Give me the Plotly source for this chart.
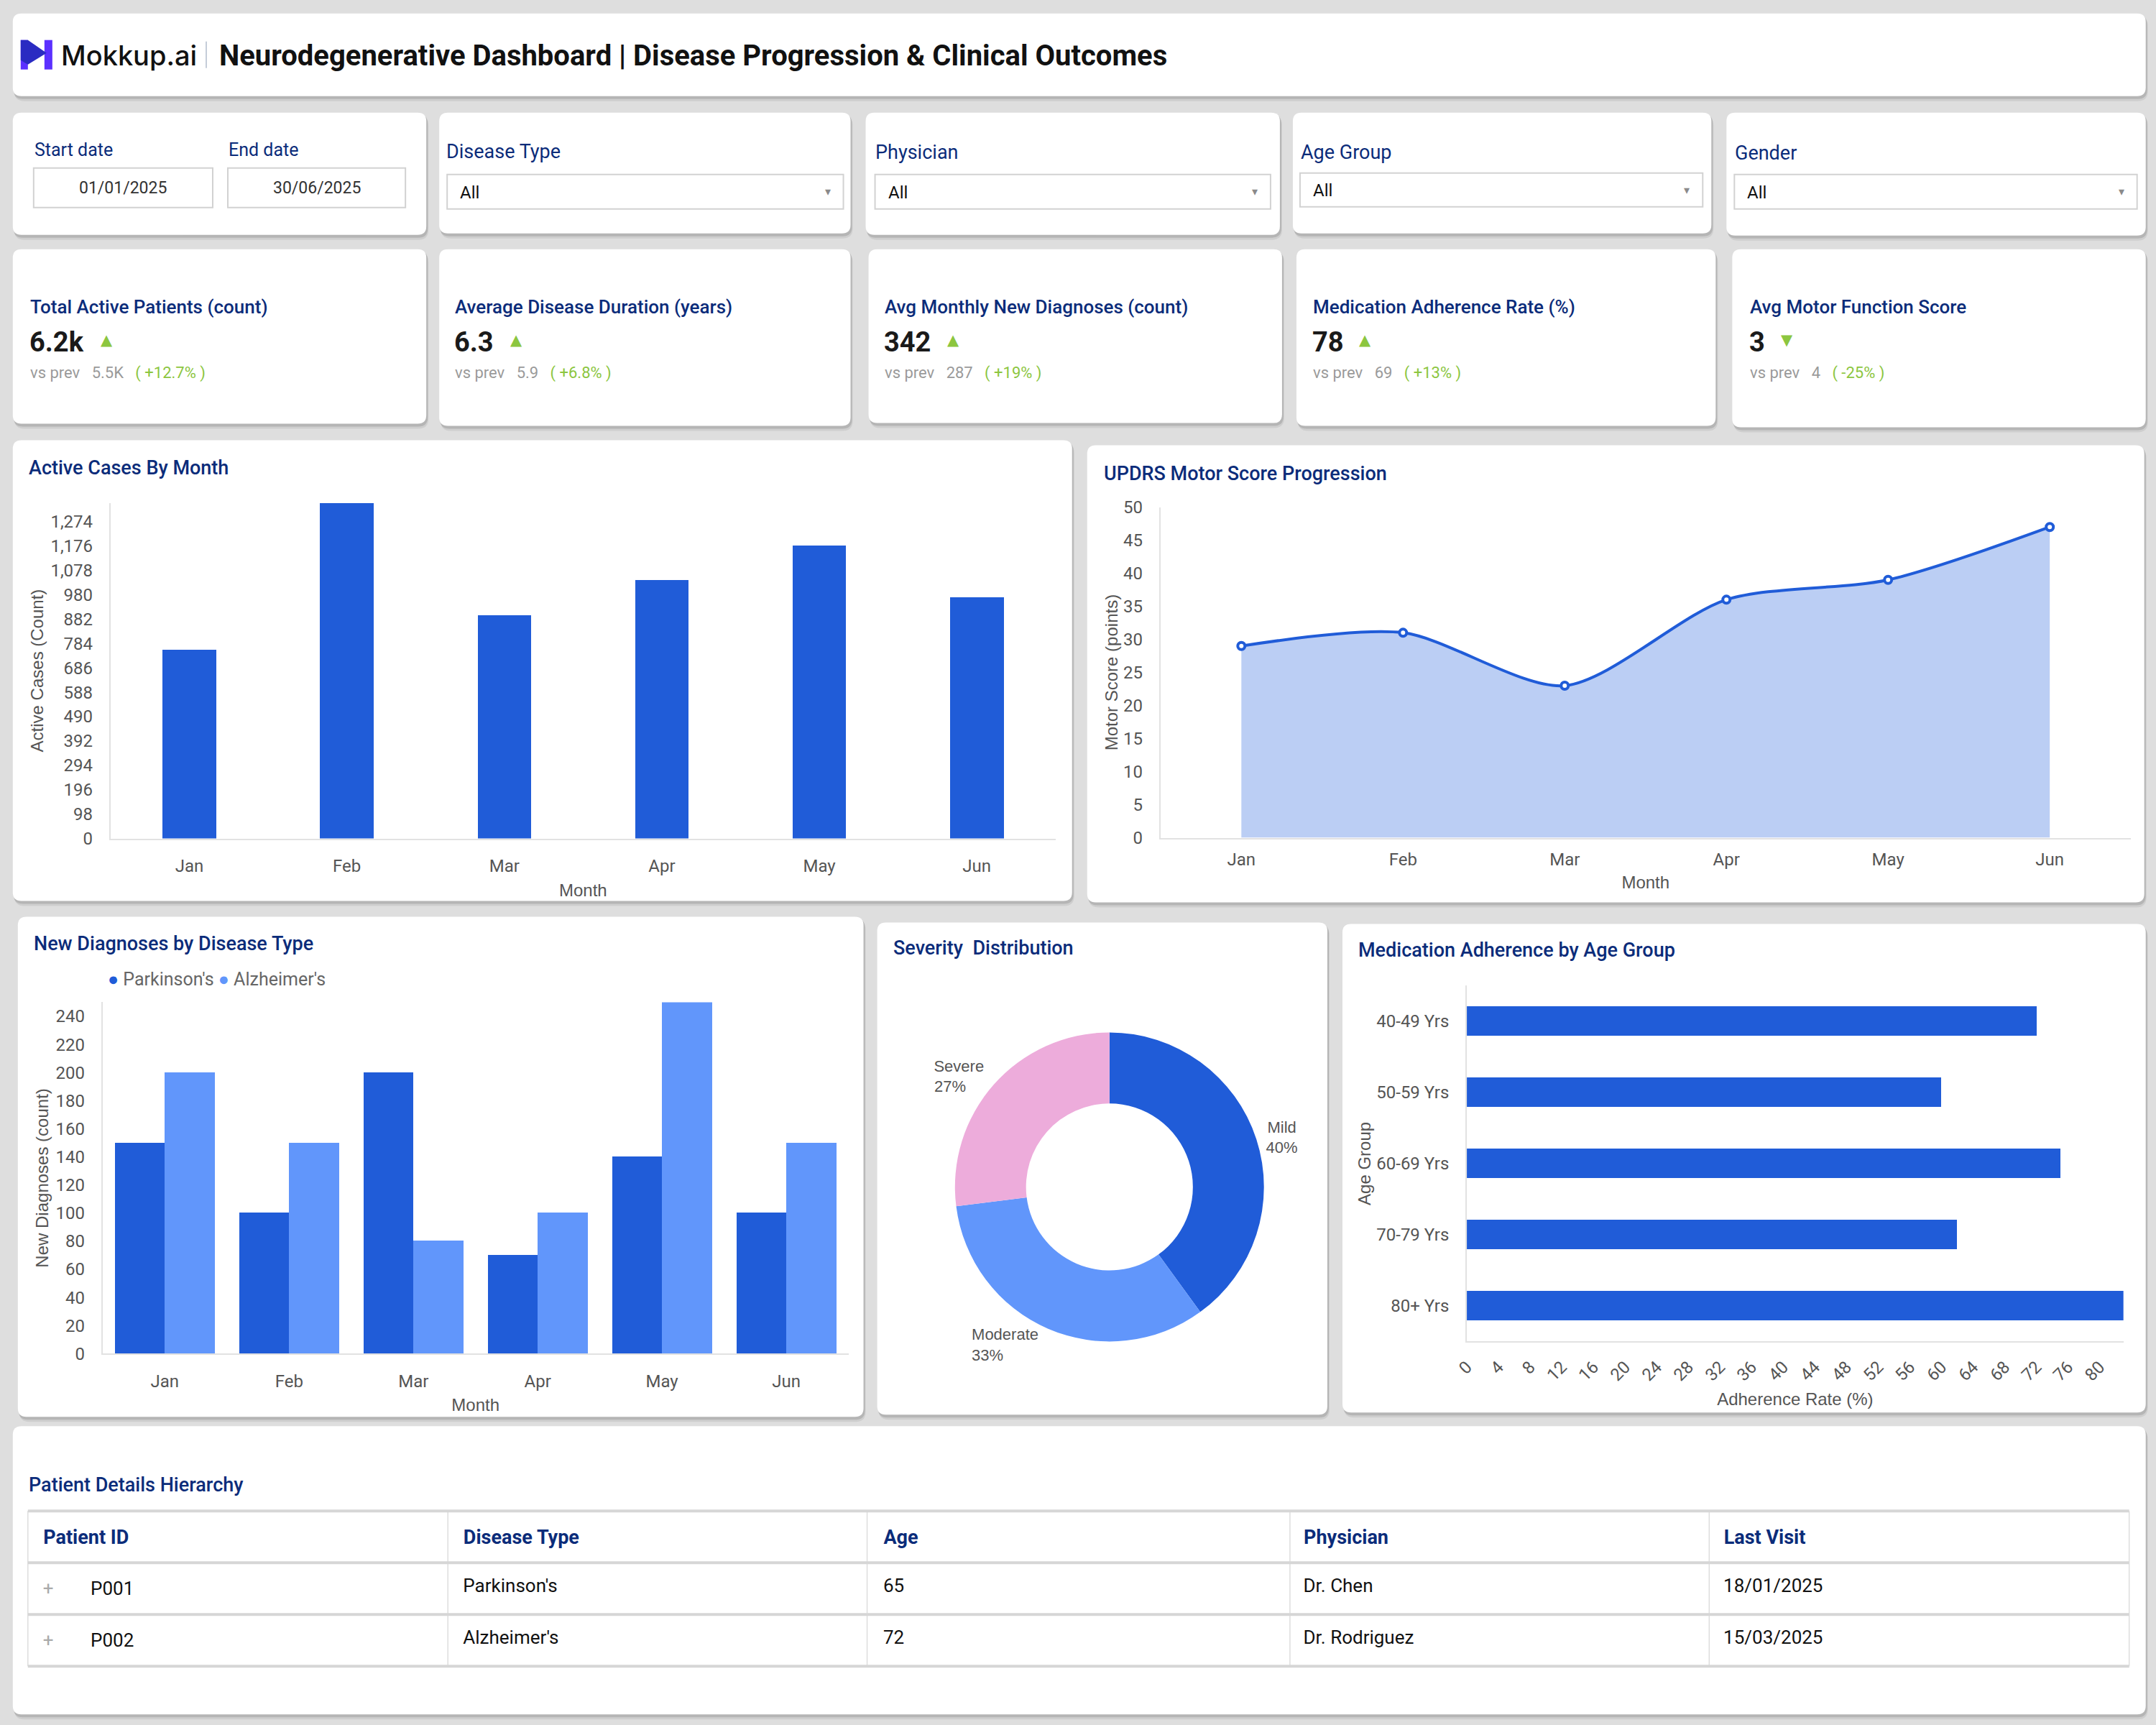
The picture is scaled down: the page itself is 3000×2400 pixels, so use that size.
import plotly.graph_objects as go

W, H = 3000, 2400

# ---------------- data ----------------
months = ["Jan", "Feb", "Mar", "Apr", "May", "Jun"]
active_cases = [760, 1350, 900, 1040, 1180, 970]
active_ticks = list(range(0, 1275, 98))
motor_score = [29, 31, 23, 36, 39, 47]
parkinsons = [150, 100, 200, 70, 140, 100]
alzheimers = [200, 150, 80, 100, 250, 150]
series_names = ["Parkinson's", "Alzheimer's"]
severity_labels = ["Mild", "Moderate", "Severe"]
severity_values = [40, 33, 27]
age_groups = ["40-49 Yrs", "50-59 Yrs", "60-69 Yrs", "70-79 Yrs", "80+ Yrs"]
adherence = [72, 60, 75, 62, 83]

kpi_titles = ["Total Active Patients (count)", "Average Disease Duration (years)",
              "Avg Monthly New Diagnoses (count)", "Medication Adherence Rate (%)",
              "Avg Motor Function Score"]
kpi_values = ["6.2k", "6.3", "342", "78", "3"]
kpi_prev = ["5.5K", "5.9", "287", "69", "4"]
kpi_change = ["+12.7%", "+6.8%", "+19%", "+13%", "-25%"]
kpi_up = [True, True, True, True, False]

date_labels = ["Start date", "End date"]
date_values = ["01/01/2025", "30/06/2025"]
filter_labels = ["Disease Type", "Physician", "Age Group", "Gender"]
filter_values = ["All", "All", "All", "All"]

table_columns = ["Patient ID", "Disease Type", "Age", "Physician", "Last Visit"]
patient_ids = ["P001", "P002"]
disease_types = ["Parkinson's", "Alzheimer's"]
ages = [65, 72]
physicians = ["Dr. Chen", "Dr. Rodriguez"]
last_visits = ["18/01/2025", "15/03/2025"]

# ---------------- style ----------------
BG = "#DEDEDE"
NAVY = "#0B2C7A"
BLUE = "#205CD8"
LBLUE = "#6196FB"
FILL = "#BBCEF4"
PINK = "#EDACDB"
GREEN = "#8CC63F"
TICK = "#555555"
FONT = "Roboto"
AFONT = "Liberation Sans"

# layout calibration (page px -> paper fraction)
AX, BX = 0.9937, 18.2
AY, BY = 0.9885, 14.3


def px(x):
    return ((x - BX) / AX) / W


def py(y):
    return 1 - ((y - BY) / AY) / H


def rrect_path(x0, y0, x1, y1, r=12):
    pts = [
        ("M", [(x0 + r, y0)]), ("L", [(x1 - r, y0)]), ("Q", [(x1, y0), (x1, y0 + r)]),
        ("L", [(x1, y1 - r)]), ("Q", [(x1, y1), (x1 - r, y1)]), ("L", [(x0 + r, y1)]),
        ("Q", [(x0, y1), (x0, y1 - r)]), ("L", [(x0, y0 + r)]), ("Q", [(x0, y0), (x0 + r, y0)]),
    ]
    s = ""
    for cmd, ps in pts:
        s += cmd + " " + " ".join(f"{px(a):.6f},{py(b):.6f}" for a, b in ps) + " "
    return s + "Z"


def poly_path(points):
    return "M " + " L ".join(f"{px(a):.6f},{py(b):.6f}" for a, b in points) + " Z"


shapes = []
annotations = []


def card(x0, y0, x1, y1):
    shapes.append(dict(type="path", path=rrect_path(x0 + 2, y0 + 4, x1 + 3, y1 + 7, 14),
                       xref="paper", yref="paper", fillcolor="rgba(0,0,0,0.07)", line=dict(width=0), layer="below"))
    shapes.append(dict(type="path", path=rrect_path(x0 + 1, y0 + 2, x1 + 2, y1 + 4, 13),
                       xref="paper", yref="paper", fillcolor="rgba(0,0,0,0.12)", line=dict(width=0), layer="below"))
    shapes.append(dict(type="path", path=rrect_path(x0, y0, x1, y1, 12),
                       xref="paper", yref="paper", fillcolor="white", line=dict(width=0), layer="below"))


def box(x0, y0, x1, y1, color="#D2D2D2", width=2):
    shapes.append(dict(type="rect", x0=px(x0), x1=px(x1), y0=py(y1), y1=py(y0), xref="paper", yref="paper",
                       fillcolor="white", line=dict(color=color, width=width), layer="below"))


def hline(x0, x1, y, color, width, layer="above"):
    shapes.append(dict(type="line", x0=px(x0), x1=px(x1), y0=py(y), y1=py(y), xref="paper", yref="paper",
                       line=dict(color=color, width=width), layer=layer))


def vline(x, y0, y1, color, width, layer="above"):
    shapes.append(dict(type="line", x0=px(x), x1=px(x), y0=py(y0), y1=py(y1), xref="paper", yref="paper",
                       line=dict(color=color, width=width), layer=layer))


def ann(x, y, text, size, color, weight=400, xanchor="left", family=FONT, yanchor="middle"):
    annotations.append(dict(x=px(x), y=py(y), xref="paper", yref="paper", text=text, showarrow=False,
                            xanchor=xanchor, yanchor=yanchor, align="left", borderpad=0,
                            font=dict(family=family, size=size, color=color, weight=weight)))


# ---------------- cards ----------------
card(19, 19, 2985, 134)
filter_cards = [(19, 157, 594, 327), (612, 157, 1184, 325), (1205, 157, 1781, 327),
                (1799, 157, 2381, 325), (2402, 157, 2985, 328)]
kpi_cards = [(19, 347, 594, 590), (612, 347, 1184, 593), (1209, 347, 1784, 589),
             (1804, 347, 2387, 593), (2410, 347, 2985, 595)]
for c in filter_cards + kpi_cards:
    card(*c)
card(19, 613, 1492, 1254)
card(1513, 620, 2983, 1256)
card(26, 1276, 1202, 1972)
card(1221, 1284, 1847, 1969)
card(1868, 1286, 2985, 1966)
card(19, 1985, 2985, 2386)

# ---------------- header ----------------
shapes.append(dict(type="path", path=poly_path([(30, 56), (40, 56), (40, 97), (30, 97)]),
                   xref="paper", yref="paper", fillcolor="#5B30FF", line=dict(width=0)))
shapes.append(dict(type="path", path=poly_path([(63, 56), (74, 56), (74, 97), (63, 97)]),
                   xref="paper", yref="paper", fillcolor="#5B30FF", line=dict(width=0)))
shapes.append(dict(type="path", path=poly_path([(30, 56), (40, 56), (66, 74), (40, 90), (30, 84)]),
                   xref="paper", yref="paper", fillcolor="#2A2BC2", line=dict(width=0)))
ann(85, 77, "Mokkup.ai", 38, "#111111", 500, family="Inter")
vline(288, 58, 95, "#C4CCD8", 2)
ann(305, 78, "Neurodegenerative Dashboard | Disease Progression & Clinical Outcomes", 40, "#111111", 700)

# ---------------- filters ----------------
date_x = [48, 318]
date_box = [(48, 234, 297, 289), (318, 234, 565, 289)]
for i in range(2):
    ann(date_x[i], 209, date_labels[i], 25, NAVY)
    box(*date_box[i])
    bx0, by0, bx1, by1 = date_box[i]
    ann((bx0 + bx1) / 2, (by0 + by1) / 2, date_values[i], 23, "#333333", xanchor="center")

f_lab = [(621, 211), (1217, 212), (1809, 212), (2413, 213)]
f_box = [(623, 243, 1174, 291), (1218, 243, 1768, 291), (1809, 241, 2369, 288), (2413, 243, 2973, 291)]
for i in range(4):
    ann(f_lab[i][0], f_lab[i][1], filter_labels[i], 27, NAVY)
    box(*f_box[i])
    bx0, by0, bx1, by1 = f_box[i]
    ann(bx0 + 17, (by0 + by1) / 2 + 1, filter_values[i], 24, "#111111")
    ann(bx1 - 22, (by0 + by1) / 2, "▾", 16, "#8A8A8A", xanchor="center")

# ---------------- KPIs ----------------
kpi_x = [42, 633, 1230, 1826, 2434]
tri_x = [150, 719, 1327, 1900, 2486]
for i in range(5):
    ann(kpi_x[i], 427, kpi_titles[i], 26, NAVY, 500)
    ann(kpi_x[i] - 1, 476, kpi_values[i], 38, "#1A1A1A", 700)
    ann(tri_x[i], 473, "▲" if kpi_up[i] else "▼", 21, GREEN, xanchor="center", family="DejaVu Sans")
    ann(kpi_x[i], 519,
        f"vs prev\u00a0\u00a0\u00a0{kpi_prev[i]}\u00a0\u00a0\u00a0<span style='color:{GREEN}'>(\u00a0{kpi_change[i]}\u00a0)</span>",
        22, "#9A9A9A")

# ---------------- chart titles ----------------
ann(40, 651, "Active Cases By Month", 27, NAVY, 500)
ann(1535, 659, "UPDRS Motor Score Progression", 27, NAVY, 500)
ann(47, 1314, "New Diagnoses by Disease Type", 27, NAVY, 500)
ann(1242, 1320, "Severity\u00a0\u00a0Distribution", 27, NAVY, 500)
ann(1889, 1323, "Medication Adherence by Age Group", 27, NAVY, 500)
ann(40, 2067, "Patient Details Hierarchy", 27, NAVY, 500)

# legend for grouped bars
ann(150, 1363,
    f"<span style='color:{BLUE}'>●</span> {series_names[0]} <span style='color:{LBLUE}'>●</span> {series_names[1]}",
    25, "#666666")

fig = go.Figure()

# chart 1
fig.add_trace(go.Bar(x=months, y=active_cases, width=0.34, marker=dict(color=BLUE, line=dict(width=0)),
                     xaxis="x", yaxis="y", showlegend=False))
# chart 2
fig.add_trace(go.Scatter(x=months, y=motor_score, mode="lines+markers",
                         line=dict(color=BLUE, width=4, shape="spline", smoothing=0.8),
                         fill="tozeroy", fillcolor=FILL,
                         marker=dict(size=10, color="white", line=dict(color=BLUE, width=4)),
                         xaxis="x2", yaxis="y2", showlegend=False))
# chart 3
fig.add_trace(go.Bar(x=months, y=parkinsons, name=series_names[0], width=0.4025, offset=-0.4025,
                     marker=dict(color=BLUE, line=dict(width=0)), xaxis="x3", yaxis="y3", showlegend=False))
fig.add_trace(go.Bar(x=months, y=alzheimers, name=series_names[1], width=0.4025, offset=0,
                     marker=dict(color=LBLUE, line=dict(width=0)), xaxis="x3", yaxis="y3", showlegend=False))
# donut (second line padded so both label lines read left-aligned)
total = sum(severity_values)
label_pad = [0, 8, 4]
pie_text = [f"{lab}<br>{round(v / total * 100)}%" + "\u00a0" * p
            for lab, v, p in zip(severity_labels, severity_values, label_pad)]
cx, cy, R = 1544, 1652, 215
fig.add_trace(go.Pie(labels=severity_labels, values=severity_values, hole=0.54, sort=False, direction="clockwise",
                     rotation=0, marker=dict(colors=[BLUE, LBLUE, PINK], line=dict(width=0)),
                     text=pie_text, textinfo="text", textposition="outside",
                     textfont=dict(family=AFONT, size=22, color="#555555"),
                     domain=dict(x=[px(cx - R), px(cx + R)], y=[py(cy + R), py(cy - R)]),
                     showlegend=False))
# chart 5
fig.add_trace(go.Bar(y=age_groups, x=adherence, orientation="h", width=0.42,
                     marker=dict(color=BLUE, line=dict(width=0)),
                     xaxis="x4", yaxis="y4", showlegend=False))

# table (text vertically centred by shifting; grid drawn with shapes)
TOP, ROWH = 2103, 72
SHIFT = 13
pre = "\u00a0\u00a0"
id_cells = [f"<span style='color:#AAAAAA'>\u00a0\u00a0+</span>" + "\u00a0" * 8 + p for p in patient_ids]
n_rows = len(patient_ids) + 1
fig.add_trace(go.Table(
    domain=dict(x=[px(40), px(2962)], y=[py(TOP + SHIFT + ROWH * n_rows + 2), py(TOP + SHIFT)]),
    columnwidth=[1, 1, 1, 1, 1],
    header=dict(values=[f"<b>{pre}{c}</b>" for c in table_columns], height=ROWH, align="left",
                font=dict(family=FONT, size=27, color=NAVY), fill=dict(color="rgba(0,0,0,0)"),
                line=dict(color="rgba(0,0,0,0)", width=0)),
    cells=dict(values=[id_cells, [pre + d for d in disease_types], [pre + str(a) for a in ages],
                       [pre + p for p in physicians], [pre + v for v in last_visits]],
               height=ROWH, align="left", font=dict(family=FONT, size=26, color="#111111"),
               fill=dict(color="rgba(0,0,0,0)"), line=dict(color="rgba(0,0,0,0)", width=0)),
))
col_edges = [40, 624, 1207, 1795, 2378, 2962]
for xe in col_edges:
    vline(xe, TOP, TOP + ROWH * n_rows, "#DDDDDD", 1.5)
for r in range(n_rows + 1):
    hline(40, 2962, TOP + ROWH * r, "#D6D6D6", 4)

axis_common = dict(showgrid=False, zeroline=False, showline=True, linecolor="#E2E2E2", linewidth=2,
                   ticks="", tickfont=dict(family=FONT, size=24, color=TICK), fixedrange=True)
title_font = dict(family=AFONT, size=24, color=TICK)

fig.update_layout(
    width=W, height=H, margin=dict(l=0, r=0, t=0, b=0), paper_bgcolor=BG, plot_bgcolor="rgba(0,0,0,0)",
    font=dict(family=FONT), shapes=shapes, annotations=annotations, barmode="group", bargap=0, bargroupgap=0,
    xaxis=dict(domain=[px(155), px(1469)], anchor="y", ticklabelstandoff=16,
               title=dict(text="Month", font=title_font, standoff=12), **axis_common),
    yaxis=dict(domain=[py(1167), py(700)], anchor="x", range=[0, 1350], tickvals=active_ticks, tickformat=",d",
               ticklabelstandoff=18, title=dict(text="Active Cases (Count)", font=title_font, standoff=3),
               **axis_common),
    xaxis2=dict(domain=[px(1615), px(2964)], anchor="y2", range=[-0.5, 5.5], ticklabelstandoff=8,
                title=dict(text="Month", font=title_font, standoff=10), **axis_common),
    yaxis2=dict(domain=[py(1166), py(706)], anchor="x2", range=[0, 50], dtick=5, ticklabelstandoff=18,
                title=dict(text="Motor Score (points)", font=title_font, standoff=1), **axis_common),
    xaxis3=dict(domain=[px(144), px(1181)], anchor="y3", ticklabelstandoff=16,
                title=dict(text="Month", font=title_font, standoff=11), **axis_common),
    yaxis3=dict(domain=[py(1884), py(1395)], anchor="x3", range=[0, 250], tickvals=list(range(0, 241, 20)),
                ticklabelstandoff=18, title=dict(text="New Diagnoses (count)", font=title_font, standoff=3),
                **axis_common),
    xaxis4=dict(domain=[px(2041), px(2954)], anchor="y4", range=[0, 83], tickvals=list(range(0, 81, 4)),
                tickangle=-45, ticklabelstandoff=10,
                title=dict(text="Adherence Rate (%)", font=title_font, standoff=12), **axis_common),
    yaxis4=dict(domain=[py(1867), py(1372)], anchor="x4", categoryorder="array", categoryarray=age_groups,
                autorange="reversed", ticklabelstandoff=18,
                title=dict(text="Age Group", font=title_font, standoff=1), **axis_common),
)

fig.write_html(
    "out.html",
    post_script="document.body.style.margin='0';document.body.style.overflow='hidden';"
                "document.documentElement.style.overflow='hidden';",
)
